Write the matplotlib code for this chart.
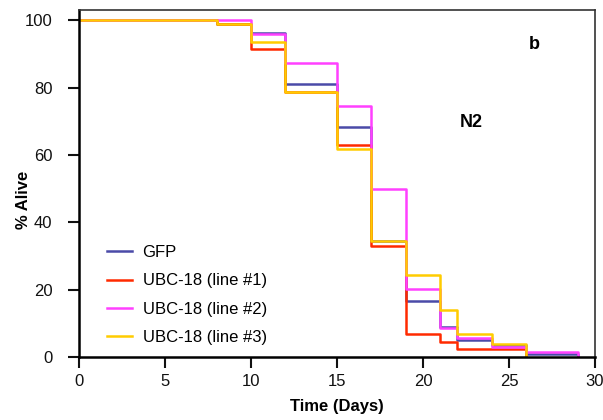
import matplotlib
matplotlib.use("Agg")
import matplotlib.pyplot as plt

plt.rcParams['font.family'] = ['Liberation Sans', 'DejaVu Sans']

days = [0, 8, 10, 12, 15, 17, 19, 21, 22, 24, 26, 29]
gfp = [100, 99, 96.2, 81.2, 68.3, 34.4, 16.7, 9.0, 5.0, 3.5, 1.0, 0]
days_red = [0, 8, 10, 12, 15, 17, 19, 21, 22, 24, 26]
line1 = [100, 99, 91.3, 78.6, 62.9, 32.9, 6.7, 4.4, 2.3, 2.3, 0]
days_pink = [0, 10, 12, 15, 17, 19, 21, 22, 24, 26, 29]
line2 = [100, 95.8, 87.3, 74.5, 49.9, 20.1, 8.5, 5.5, 3.1, 1.5, 0]
days_yel = [0, 8, 10, 12, 15, 17, 19, 21, 22, 24, 26]
line3 = [100, 99, 93.5, 78.6, 61.9, 34.4, 24.3, 13.9, 6.7, 3.9, 0]

labels = ['GFP', 'UBC-18 (line #1)', 'UBC-18 (line #2)', 'UBC-18 (line #3)']
colors = ['#4a4aa8', '#ff2a00', '#ff40ff', '#ffcc00']
xticks = [0, 5, 10, 15, 20, 25, 30]
yticks = [0, 20, 40, 60, 80, 100]

fig = plt.figure(figsize=(6.03, 4.20), dpi=100)
ax = fig.add_axes([0.131, 0.15, 0.8557, 0.826])

for d, v, lab, c in zip([days, days_red, days_pink, days_yel],
                        [gfp, line1, line2, line3], labels, colors):
    ax.step(d, v, where='post', color=c, lw=1.8, label=lab)

ax.set_xlim(0, 30)
ax.set_ylim(0, 103)
ax.set_xticks(xticks)
ax.set_yticks(yticks)
ax.tick_params(direction='out', length=8, width=1.5, labelsize=12, colors='#111111')
ax.tick_params(axis='x', pad=4.5)
ax.tick_params(axis='y', pad=11)
for s in ['left', 'bottom']:
    ax.spines[s].set_linewidth(1.8)
for s in ['top', 'right']:
    ax.spines[s].set_linewidth(1.2)
    ax.spines[s].set_color('#333333')

ax.set_xlabel('Time (Days)', fontsize=12, fontweight='bold', labelpad=7)
ax.set_ylabel('% Alive', fontsize=12, fontweight='bold')
ax.yaxis.set_label_coords(-0.093, 0.452)

ax.text(26.5, 92.9, 'b', fontsize=13, fontweight='bold', ha='center', va='center')
ax.text(22.8, 69.7, 'N2', fontsize=13, fontweight='bold', ha='center', va='center')

ax.legend(loc='lower left', bbox_to_anchor=(0.025, -0.008), frameon=False,
          fontsize=12, handlelength=1.5, handletextpad=0.64, labelspacing=0.79)

fig.savefig('out.png', dpi=100)
